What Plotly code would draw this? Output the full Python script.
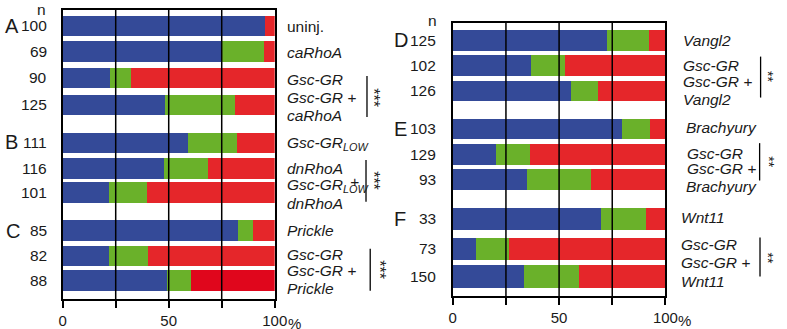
import plotly.graph_objects as go

W, H = 787, 329

# ---------------- data (percent of embryos) ----------------
left_n = ["100", "69", "90", "125", "111", "116", "101", "85", "82", "88"]
left_blue = [95.1, 74.3, 22.3, 48.3, 58.9, 47.7, 21.7, 82.6, 21.5, 48.9]
left_green = [0.0, 20.3, 10.0, 32.6, 23.1, 20.8, 17.8, 6.9, 18.7, 11.4]
left_red = [4.9, 5.4, 67.7, 19.1, 18.0, 31.5, 60.5, 10.5, 59.8, 39.7]

right_n = ["125", "102", "126", "103", "129", "93", "33", "73", "150"]
right_blue = [72.4, 36.8, 55.4, 79.3, 20.2, 35.0, 69.8, 10.7, 33.3]
right_green = [19.8, 15.8, 12.7, 13.2, 15.8, 29.7, 21.0, 15.5, 26.1]
right_red = [7.8, 47.4, 31.9, 7.5, 64.0, 35.3, 9.2, 73.8, 40.6]

x_ticks = [0, 25, 50, 75, 100]
x_ticktext = ["0", "", "50", "", "100"]

# ---------------- layout helpers (row positions / sizes) ----------------
left_pos = [0, 1, 2.05, 3.1, 4.6, 5.6, 6.55, 8.05, 9.05, 10]
left_w = [0.81] * 10
right_pos = [0, 0.99, 2.0, 3.52, 4.52, 5.53, 7.09, 8.28, 9.38]
right_w = [0.82] * 6 + [0.89] * 3

BLUE = "#344a98"
GREEN = "#6ab12a"
RED = "#e5262a"
DARKRED = "#e0061c"
left_red_colors = [RED] * 9 + [DARKRED]
right_red_colors = [RED] * 9

FONT = "Arial, 'Liberation Sans', Helvetica, sans-serif"
TXT = "#1a1a1a"

fig = go.Figure()


def add_bars(blue, green, red, red_cols, pos, widths, xa, ya):
    for vals, col in ((blue, BLUE), (green, GREEN), (red, red_cols)):
        fig.add_trace(go.Bar(
            x=vals, y=pos, width=widths, orientation="h",
            marker=dict(color=col, line=dict(width=0)),
            xaxis=xa, yaxis=ya, showlegend=False, hoverinfo="x",
        ))


add_bars(left_blue, left_green, left_red, left_red_colors, left_pos, left_w, "x", "y")
add_bars(right_blue, right_green, right_red, right_red_colors, right_pos, right_w, "x2", "y2")


def px(x):
    return x / W


def py(y):
    return 1 - y / H


axis_common = dict(
    range=[0, 100], tickvals=x_ticks, ticktext=x_ticktext,
    ticks="outside", ticklen=7, tickwidth=1.5, tickcolor="black",
    showline=True, linewidth=1.5, linecolor="black", mirror=True,
    showgrid=False, zeroline=False, layer="above traces",
    tickfont=dict(size=15, family=FONT, color=TXT), fixedrange=True,
)
yaxis_common = dict(
    showline=True, linewidth=1.5, linecolor="black", mirror=True,
    showticklabels=False, ticks="", showgrid=False, zeroline=False,
    layer="above traces", fixedrange=True,
)

fig.update_layout(
    width=W, height=H, margin=dict(l=0, r=0, t=0, b=0),
    paper_bgcolor="white", plot_bgcolor="white",
    barmode="stack", bargap=0,
    xaxis=dict(domain=[px(60), px(276.7)], anchor="y", **axis_common),
    yaxis=dict(domain=[py(306.5), py(10)], range=[10.75, -0.633], anchor="x", **yaxis_common),
    xaxis2=dict(domain=[px(458.7), px(676)], anchor="y2", **axis_common),
    yaxis2=dict(domain=[py(303.3), py(23.3)], range=[10.17, -0.707], anchor="x2", **yaxis_common),
)

# vertical gridlines drawn above the bars, and the "%" that follows the 100 label
for xa, ya in (("x", "y"), ("x2", "y2")):
    for v in (25, 50, 75):
        fig.add_shape(type="line", xref=xa, yref=ya + " domain", x0=v, x1=v, y0=0, y1=1,
                      line=dict(color="black", width=1.5), layer="above")
    fig.add_annotation(xref=xa, yref="paper", x=100, y=py(322 if xa == "x" else 319.3),
                       text="%", showarrow=False, xanchor="left", yanchor="middle",
                       xshift=11, yshift=-9, font=dict(size=15, family=FONT, color=TXT))


def txt(text, x, y, size=15.5, anchor="left", italic=False, angle=0):
    if italic:
        text = "<i>" + text + "</i>"
    fig.add_annotation(xref="paper", yref="paper", x=px(x), y=py(y), text=text,
                       showarrow=False, xanchor=anchor, yanchor="middle",
                       textangle=angle,
                       font=dict(size=size, family=FONT, color=TXT))


# n headers and group letters
txt("n", 38, 10, anchor="center")
txt("n", 438, 21.5, anchor="center")
for letter, x, y in (("A", 8, 26.5), ("B", 7.5, 146), ("C", 9, 236.5),
                     ("D", 406, 41.5), ("E", 405, 132), ("F", 405, 224)):
    txt(letter, x, y, size=20, anchor="center")

# n values
for n, p in zip(left_n, left_pos):
    txt(n, 46, 26.5 + p * 26.05, anchor="right")
for n, p in zip(right_n, right_pos):
    txt(n, 444, 41.5 + p * 25.75, anchor="right")

# condition labels
left_labels = [
    ("uninj.", 287.5, 27, False),
    ("caRhoA", 287.5, 53.5, True),
    ("Gsc-GR", 287.5, 81.5, True),
    ("Gsc-GR +", 287.5, 100, True),
    ("caRhoA", 287.5, 118.5, True),
    ("Gsc-GR<sub>LOW</sub>", 287.5, 147, True),
    ("dnRhoA", 287.5, 172.5, True),
    ("Gsc-GR<sub>LOW</sub>", 287.5, 190, True),
    ("dnRhoA", 287.5, 208.5, True),
    ("Prickle", 287.5, 236, True),
    ("Gsc-GR", 287.5, 260.5, True),
    ("Gsc-GR +", 287.5, 277.5, True),
    ("Prickle", 287.5, 296, True),
]
for t, x, y, it in left_labels:
    txt(t, x, y, italic=it)
txt("+", 352, 186.5, italic=True)

right_labels = [
    ("Vangl2", 692, 41.5),
    ("Gsc-GR", 692, 67.2),
    ("Gsc-GR +", 692, 83.8),
    ("Vangl2", 692, 102),
    ("Brachyury", 695, 131),
    ("Gsc-GR", 696.5, 157.5),
    ("Gsc-GR +", 696, 172.5),
    ("Brachyury", 695, 191),
    ("Wnt11", 690, 222.5),
    ("Gsc-GR", 690, 250.8),
    ("Gsc-GR +", 689.5, 269),
    ("Wnt11", 690, 288.5),
]
for t, x, y in right_labels:
    txt(t, x, y, italic=True)

# significance brackets
brackets = [
    (371, 78, 120, "***", 377.5, 100, 16),
    (370, 164, 206.7, "***", 377.5, 185, 16),
    (374.3, 255, 298, "***", 383, 276.7, 16),
    (773.3, 58, 100, "**", 781, 78, 14),
    (772.3, 146.7, 185, "**", 781, 165.5, 14),
    (772.7, 243.3, 283.3, "**", 781, 264, 14),
]
for lx, y0, y1, stars, sx, sy, fs in brackets:
    fig.add_shape(type="line", xref="paper", yref="paper", x0=px(lx), x1=px(lx),
                  y0=py(y0), y1=py(y1), line=dict(color="black", width=1.3))
    txt(stars, sx, sy, size=fs, anchor="center", angle=90)

fig.write_html("out.html")
